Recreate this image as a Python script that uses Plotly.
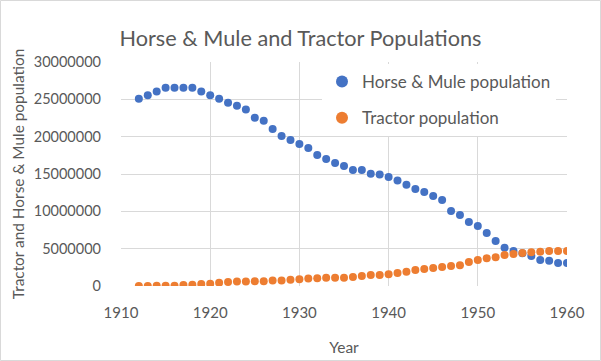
import plotly.graph_objects as go

years = list(range(1912, 1961))
horse_mule = [
    25.07, 25.56, 26.05, 26.54, 26.54, 26.54, 26.54, 26.05, 25.56, 25.07,
    24.53, 24.13, 23.63, 22.52, 22.12, 21.04, 20.10, 19.56, 19.03, 18.49,
    17.55, 17.02, 16.48, 16.08, 15.54, 15.54, 15.05, 14.92, 14.60, 14.12,
    13.56, 13.00, 12.60, 12.06, 11.53, 10.05, 9.52, 8.58, 8.04, 7.10,
    6.03, 5.12, 4.69, 4.38, 4.02, 3.48, 3.39, 3.08, 3.08,
]
horse_mule = [v * 1e6 for v in horse_mule]
tractor = [
    0.005, 0.01, 0.02, 0.03, 0.04, 0.15, 0.16, 0.28, 0.30, 0.45,
    0.55, 0.60, 0.60, 0.62, 0.65, 0.72, 0.75, 0.85, 0.92, 1.00,
    1.05, 1.10, 1.10, 1.12, 1.21, 1.34, 1.47, 1.47, 1.56, 1.74,
    1.92, 2.14, 2.28, 2.41, 2.55, 2.68, 2.77, 3.22, 3.48, 3.71,
    3.84, 4.15, 4.29, 4.42, 4.51, 4.60, 4.69, 4.69, 4.69,
]
tractor = [v * 1e6 for v in tractor]

x_ticks = [1910, 1920, 1930, 1940, 1950, 1960]
y_ticks = [0, 5000000, 10000000, 15000000, 20000000, 25000000, 30000000]

FONT = "Lato"
GRAY = "#595959"
GRID = "#d9d9d9"

W, H = 601, 361
ML, MR, MT, MB = 121, 34, 62, 75

fig = go.Figure()
fig.add_trace(go.Scatter(
    x=years, y=horse_mule, mode="markers", name="Horse & Mule population",
    marker=dict(color="#4472C4", size=8), legendgroup="a",
))
fig.add_trace(go.Scatter(
    x=years, y=tractor, mode="markers", name="Tractor population",
    marker=dict(color="#ED7D31", size=8), legendgroup="b",
))

pw = W - ML - MR
ph = H - MT - MB
x0 = (0.5 - ML) / pw
x1 = (W - 0.5 - ML) / pw
y0 = -(H - 0.5 - MT - ph) / ph
y1 = (H - 0.5 - MB) / ph
fig.add_shape(type="rect", xref="paper", yref="paper", x0=x0, x1=x1, y0=y0, y1=y1,
              line=dict(color=GRID, width=1), fillcolor="rgba(0,0,0,0)", layer="below")

fig.update_layout(
    width=W, height=H,
    margin=dict(l=ML, r=MR, t=MT, b=MB, autoexpand=False),
    paper_bgcolor="white", plot_bgcolor="white",
    font=dict(family=FONT, color=GRAY, size=13),
    title=dict(text="Horse & Mule and Tractor Populations", x=0.5, xref="container",
               y=1 - 38 / H, yref="container", yanchor="middle", xanchor="center",
               font=dict(size=21.7, color=GRAY, family=FONT)),
    showlegend=True,
    legend=dict(x=(322 - ML) / pw, y=1 - 2 / ph, xanchor="left", yanchor="top",
                bgcolor="white", font=dict(size=17, color=GRAY),
                tracegroupgap=11, itemsizing="constant"),
    xaxis=dict(range=[1910, 1960], tickvals=x_ticks, showgrid=True, gridcolor=GRID,
               zeroline=False, showline=False, ticks="", ticklabelstandoff=16,
               title=dict(text="Year", font=dict(size=15.5, color=GRAY), standoff=22),
               tickfont=dict(size=15, color=GRAY)),
    yaxis=dict(range=[0, 30000000], tickvals=y_ticks, tickformat="d", showgrid=True,
               gridcolor=GRID, zeroline=False, showline=False, ticks="", ticklabelstandoff=19,
               title=dict(text="Tractor and Horse & Mule population",
                          font=dict(size=15.4, color=GRAY), standoff=5),
               tickfont=dict(size=14.5, color=GRAY)),
)

fig.write_html("out.html", config={"displayModeBar": False},
               post_script="document.body.style.margin='0';document.body.style.padding='0';")
